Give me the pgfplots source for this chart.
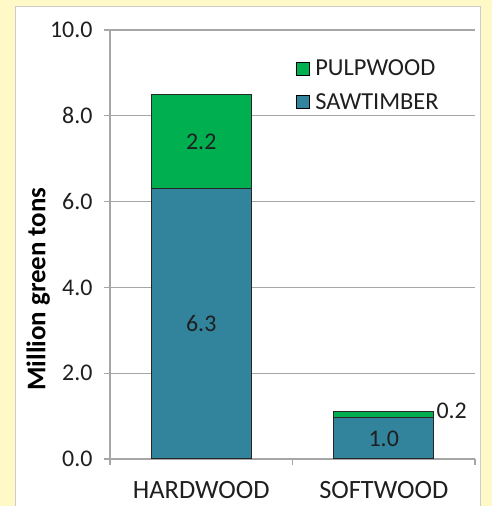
\documentclass[border=0pt]{standalone}
\usepackage{fontspec}
\setmainfont{Carlito}
\usepackage{pgfplots}
\pgfplotsset{compat=1.18}
\definecolor{bgyellow}{HTML}{FFF9C8}
\definecolor{pulp}{HTML}{00B050}
\definecolor{saw}{HTML}{31849B}
\definecolor{gridgrey}{HTML}{A6A6A6}
\definecolor{txt}{HTML}{1F1F1F}
\begin{document}
\begin{tikzpicture}[x=1bp,y=1bp]
\useasboundingbox (0,0) rectangle (492,506);
\fill[bgyellow] (0,0) rectangle (492,506);
\fill[white] (15,-2) rectangle (480,500);
\draw[gray!40, line width=0.8bp] (15,-2) rectangle (480,500);
\begin{axis}[
  at={(110bp,47bp)}, anchor=south west,
  scale only axis, width=365bp, height=429bp,
  ybar stacked, bar width=100bp,
  xmin=-0.5, xmax=1.5, ymin=0, ymax=10,
  axis x line*=bottom, axis y line*=left,
  axis line style={gridgrey, line width=1.2bp},
  ytick={0,2,4,6,8,10},
  ymajorgrids, major grid style={gridgrey, line width=1.2bp},
  yticklabel style={xshift=-8bp, font=\fontsize{24}{29}\selectfont,
    /pgf/number format/fixed, /pgf/number format/fixed zerofill,
    /pgf/number format/precision=1, /pgf/number format/assume math mode=true},
  tick align=outside, major tick length=6bp,
  tick style={gridgrey, line width=1.2bp},
  xtick={-0.5,0.5,1.5}, xticklabels={},
  extra x ticks={0,1}, extra x tick labels={HARDWOOD,SOFTWOOD},
  extra x tick style={major tick length=0pt},
  xticklabel style={yshift=-19bp, font=\fontsize{26.5}{31}\selectfont},
  every tick label/.append style={text=txt},
  ylabel={Million green tons},
  ylabel style={font=\bfseries\fontsize{27}{32}\selectfont, at={(axis description cs:-0.197,0.396)}, anchor=center, rotate=0},
  legend style={draw=none, fill=none, at={(axis description cs:0.51,0.935)}, anchor=north west,
    font=\fontsize{24.5}{29}\selectfont, text=txt, row sep=12bp, inner sep=0pt,
    /tikz/every odd column/.append style={column sep=3bp}},
  legend cell align=left,
  reverse legend,
  legend image code/.code={\draw[#1, draw=black, line width=1bp] (0bp,-6.5bp) rectangle (13bp,6.5bp);},
]
\addplot[fill=saw, draw=black!85, line width=1.2bp] coordinates {(0,6.3) (1,0.96)};
\addlegendentry{SAWTIMBER}
\addplot[fill=pulp, draw=black!85, line width=1.2bp] coordinates {(0,2.2) (1,0.15)};
\addlegendentry{PULPWOOD}
\coordinate (lA) at (axis cs:0,3.15);
\coordinate (lB) at (axis cs:0,7.4);
\coordinate (lC) at (axis cs:1,0.48);
\coordinate (lD) at (axis cs:1.27,1.12);
\end{axis}
\node[font=\fontsize{24}{28}\selectfont, text=txt] at (lA) {6.3};
\node[font=\fontsize{24}{28}\selectfont, text=txt] at (lB) {2.2};
\node[font=\fontsize{24}{28}\selectfont, text=txt] at (lC) {1.0};
\node[font=\fontsize{24}{28}\selectfont, text=txt, anchor=west] at (lD) {0.2};
\end{tikzpicture}
\end{document}
